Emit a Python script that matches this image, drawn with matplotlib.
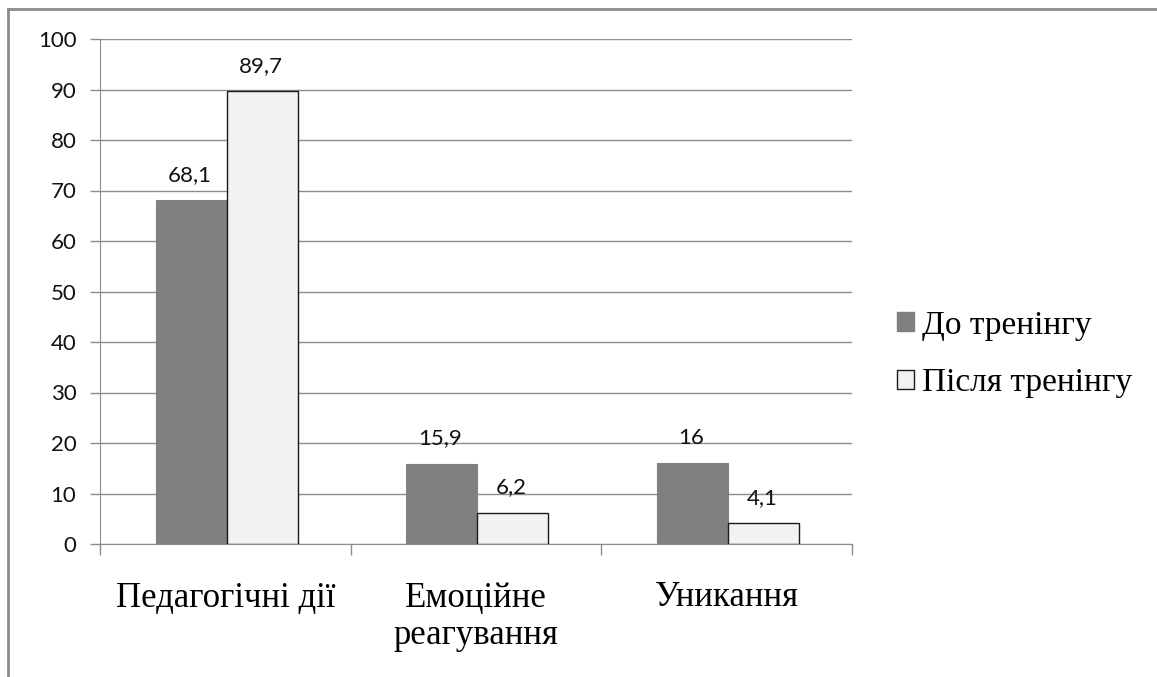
import numpy as np
import matplotlib.pyplot as plt
from matplotlib.lines import Line2D

# data
categories = ["Педагогічні дії", "Емоційне\nреагування", "Уникання"]
before = [68.1, 15.9, 16]
after = [89.7, 6.2, 4.1]
before_labels = ["68,1", "15,9", "16"]
after_labels = ["89,7", "6,2", "4,1"]
series_names = ["До тренінгу", "Після тренінгу"]
y_ticks = [0, 10, 20, 30, 40, 50, 60, 70, 80, 90, 100]

W, H = 1157, 677
fig = plt.figure(figsize=(W / 100, H / 100), dpi=100)
ax = fig.add_axes([100 / W, 1 - 544 / H, 752 / W, 505 / H])

x = np.arange(len(categories))
bw = 0.283
ax.bar(x - bw / 2 + 0.005, before, bw, color="#808080", edgecolor="#808080", linewidth=0.8, zorder=3)
ax.bar(x + bw / 2 + 0.005, after, bw, color="#f2f2f2", edgecolor="#1a1a1a", linewidth=1.0, zorder=3)

for i in range(len(categories)):
    ax.text(x[i] - bw / 2, before[i] + 3, before_labels[i], ha="center", va="bottom",
            fontsize=16, family="Lato", color="#111111")
    ax.text(x[i] + bw / 2, after[i] + 3, after_labels[i], ha="center", va="bottom",
            fontsize=16, family="Lato", color="#111111")

ax.set_xlim(-0.5, len(categories) - 0.5)
ax.set_ylim(0, 100)
ax.set_yticks(y_ticks)
ax.set_yticklabels([str(t) for t in y_ticks], family="Lato", fontsize=16, color="#111111")
ax.grid(axis="y", color="#8c8c8c", linewidth=1.0, zorder=0)
ax.tick_params(axis="y", length=7, width=1, color="#8c8c8c", pad=10)

# category ticks at boundaries, labels at centres
ax.set_xticks(np.arange(len(categories) + 1) - 0.5)
ax.set_xticklabels([])
ax.tick_params(axis="x", length=8, width=1, color="#8c8c8c")
ax.set_xticks(x, minor=True)
ax.set_xticklabels(categories, minor=True, family="Liberation Serif", fontsize=25, linespacing=1.2)
ax.tick_params(axis="x", which="minor", length=0, pad=27)

for s in ["top", "right"]:
    ax.spines[s].set_visible(False)
ax.spines["left"].set_color("#8c8c8c")
ax.spines["bottom"].set_color("#8c8c8c")

handles = [
    plt.Rectangle((0, 0), 1, 1, facecolor="#808080", edgecolor="#808080"),
    plt.Rectangle((0, 0), 1, 1, facecolor="#f2f2f2", edgecolor="#1a1a1a"),
]
fig.legend(handles, series_names, loc="center left", bbox_to_anchor=(897 / W, 1 - 354 / H),
           frameon=False, prop={"family": "Liberation Serif", "size": 24},
           handlelength=0.5, handleheight=0.5, handletextpad=0.25, labelspacing=0.8,
           borderpad=0, borderaxespad=0)

# outer frame (top and left only visible)
fig.add_artist(Line2D([8 / W, 1], [1 - 9 / H, 1 - 9 / H], transform=fig.transFigure, color="#8c8c8c", linewidth=2))
fig.add_artist(Line2D([8 / W, 8 / W], [0, 1 - 9 / H], transform=fig.transFigure, color="#8c8c8c", linewidth=2))

fig.savefig("out.png", dpi=100, facecolor="white")
